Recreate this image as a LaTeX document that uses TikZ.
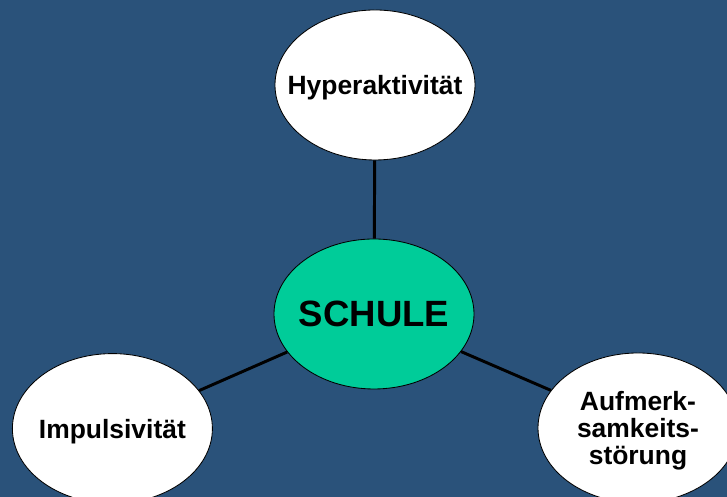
\documentclass[tikz,border=0pt]{standalone}
\usepackage{fontspec}
\setmainfont{Liberation Sans}
\usetikzlibrary{shapes.geometric}
\definecolor{bgblue}{RGB}{42,82,122}
\definecolor{schulgreen}{RGB}{0,204,153}

\begin{document}
\begin{tikzpicture}[
  bubble/.style={ellipse, draw=black, line width=0.6pt, fill=white, minimum width=5.0cm, minimum height=3.75cm, inner sep=0pt},
  lbl/.style={font=\fontsize{18.8}{19.5}\selectfont\bfseries, align=center, inner sep=0pt},
  link/.style={line width=2.1pt, black}]
  % background
  \fill[bgblue] (0,0) rectangle (18.175,12.425);
  \useasboundingbox (0,0) rectangle (18.175,12.425);

  % centre and the three bubbles
  \node[bubble, fill=schulgreen] (schule) at (9.35,4.575) {};
  \node[bubble] (hyper) at (9.375,10.3) {};
  \node[bubble] (impuls) at (2.81,1.71) {};
  \node[bubble] (aufm) at (15.95,1.725) {};

  \node[lbl, font=\fontsize{26}{27}\selectfont\bfseries] (schuletxt) at (schule) {SCHULE};
  \node[lbl, text depth=0pt] (hypertxt) at (hyper) {Hyperaktivität};
  \node[lbl, text depth=0pt] (impulstxt) at (impuls) {Impulsivität};
  \node[lbl, yshift=-2pt] (aufmtxt) at (aufm) {Aufmerk-\\samkeits-\\störung};

  % connectors
  \draw[link] (schule) -- (hyper);
  \draw[link] (schule) -- (impuls);
  \draw[link] (schule) -- (aufm);
\end{tikzpicture}
\end{document}
